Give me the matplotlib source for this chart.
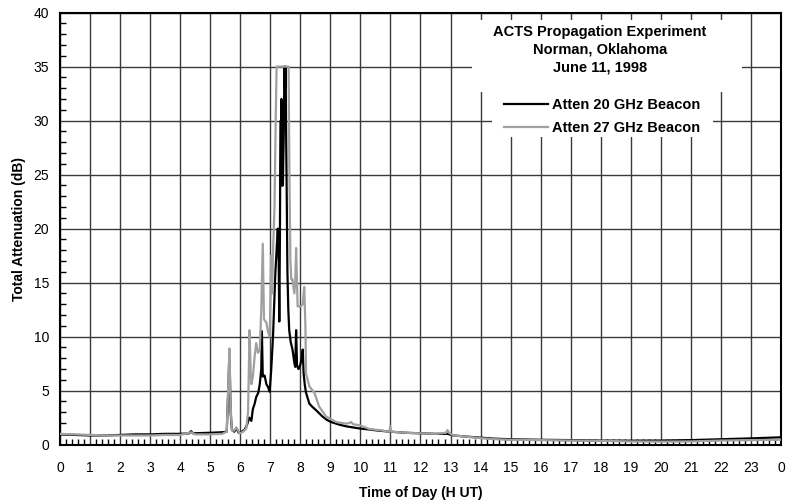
import matplotlib
matplotlib.use("Agg")
import matplotlib.pyplot as plt
from matplotlib.patches import Rectangle
from matplotlib.ticker import MultipleLocator

plt.rcParams["font.family"] = ["Liberation Sans", "DejaVu Sans"]

# 20 GHz beacon (black), hours UT / dB
t20 = [0.0, 0.5, 1.0, 1.5, 2.0, 2.5, 3.0, 3.5, 4.0, 4.3, 4.36, 4.42, 5.0, 5.4, 5.55,
       5.6, 5.64, 5.68, 5.72, 5.8, 5.87, 5.95, 6.05, 6.15, 6.22, 6.3, 6.37, 6.42, 6.48,
       6.53, 6.6, 6.65, 6.7, 6.72, 6.75, 6.81, 6.87, 6.93, 6.98, 7.03, 7.09, 7.13, 7.17,
       7.21, 7.25, 7.28, 7.3, 7.32, 7.33, 7.35, 7.36, 7.37, 7.38, 7.39, 7.4, 7.41, 7.42,
       7.43, 7.45, 7.47, 7.49, 7.51, 7.53, 7.55, 7.57, 7.6, 7.63, 7.68, 7.74, 7.8, 7.83,
       7.86, 7.89, 7.94, 8.0, 8.05, 8.08, 8.11, 8.15, 8.19, 8.3, 8.4, 8.52, 8.63, 8.74,
       8.88, 9.02, 9.3, 9.52, 9.97, 10.3, 10.6, 11.0, 11.5, 12.0, 12.5, 12.9, 13.1, 13.5,
       14.0, 14.5, 15.0, 16.0, 17.0, 18.0, 19.0, 20.0, 21.0, 22.0, 23.0, 24.0]
a20 = [0.95, 0.9, 0.85, 0.85, 0.9, 0.95, 0.95, 1.0, 1.0, 1.05, 1.25, 1.05, 1.1, 1.15, 1.2,
       5.0, 8.5, 3.0, 1.4, 1.2, 1.5, 1.1, 1.2, 1.4, 1.8, 2.5, 2.2, 3.3, 3.8,
       4.4, 4.8, 5.6, 7.0, 10.5, 6.3, 6.4, 5.6, 5.3, 4.9, 6.9, 10.0, 13.0, 16.0,
       18.0, 20.0, 17.0, 11.4, 19.0, 25.0, 30.0, 24.0, 32.0, 26.0, 28.0, 24.0, 27.0, 24.0,
       26.0, 29.0, 35.0, 33.0, 35.0, 28.0, 22.3, 16.0, 12.5, 10.6, 9.5, 8.8, 7.6, 7.2,
       10.6, 7.3, 7.0, 7.4, 8.0, 8.8, 6.6, 5.5, 4.8, 3.8, 3.5, 3.2, 2.9, 2.6,
       2.3, 2.1, 1.85, 1.7, 1.5, 1.4, 1.3, 1.2, 1.1, 1.05, 1.0, 1.0, 0.85, 0.75,
       0.65, 0.55, 0.5, 0.45, 0.42, 0.38, 0.37, 0.38, 0.42, 0.5, 0.58, 0.68]

# 27 GHz beacon (gray)
t27 = [0.0, 0.5, 1.0, 1.5, 2.0, 2.5, 3.0, 3.5, 4.0, 4.36, 4.5, 5.0, 5.4, 5.55, 5.6,
       5.64, 5.68, 5.72, 5.8, 5.87, 5.98, 6.1, 6.2, 6.26, 6.31, 6.35, 6.37, 6.42, 6.48,
       6.53, 6.59, 6.65, 6.7, 6.75, 6.79, 6.87, 6.92, 6.98, 7.03, 7.06, 7.09, 7.14, 7.18,
       7.21, 7.61, 7.64, 7.67, 7.7, 7.74, 7.8, 7.83, 7.86, 7.91, 8.02, 8.08, 8.13, 8.17,
       8.19, 8.3, 8.47, 8.63, 8.86, 9.19, 9.5, 9.63, 9.69, 9.75, 9.97, 10.3, 10.6, 10.97,
       10.99, 11.03, 11.5, 12.0, 12.5, 12.85, 12.9, 12.95, 13.1, 13.5, 14.0, 14.5, 15.0,
       16.0, 17.0, 18.0, 19.0, 20.0, 21.0, 22.0, 23.0, 24.0]
a27 = [1.0, 0.95, 0.9, 0.85, 0.85, 0.85, 0.85, 0.9, 0.9, 1.15, 0.95, 0.95, 1.0, 1.2, 5.5,
       8.9, 3.5, 1.3, 1.3, 1.6, 1.05, 1.2, 1.5, 3.0, 10.6, 6.5, 5.6, 6.3, 8.2,
       9.4, 8.5, 8.8, 12.5, 18.6, 11.6, 11.3, 10.5, 10.0, 17.5, 14.0, 17.8, 22.0, 30.0,
       35.0, 35.0, 24.0, 17.0, 15.3, 15.3, 14.0, 15.0, 18.2, 12.8, 12.8, 13.0, 14.6, 10.9,
       6.6, 5.4, 4.8, 3.5, 2.6, 2.1, 1.95, 2.0, 2.1, 1.9, 1.8, 1.45, 1.35, 1.2,
       1.7, 1.2, 1.1, 1.05, 1.0, 1.1, 1.35, 1.1, 0.85, 0.75, 0.6, 0.5, 0.45,
       0.42, 0.38, 0.35, 0.3, 0.28, 0.3, 0.38, 0.42, 0.45]

hour_labels = [str(h) for h in range(24)] + ["0"]

fig = plt.figure(figsize=(7.92, 5.03), dpi=100)
ax = fig.add_axes([0.0758, 0.116, 0.9102, 0.859])

ax.plot(t20, a20, color="black", lw=1.6, label="Atten 20 GHz Beacon", zorder=3)
ax.plot(t27, a27, color="#a0a0a0", lw=1.6, label="Atten 27 GHz Beacon", zorder=4)

ax.set_xlim(0, 24)
ax.set_ylim(0, 40)
ax.set_xticks(range(25))
ax.set_xticklabels(hour_labels)
ax.set_yticks(range(0, 41, 5))
ax.xaxis.set_minor_locator(MultipleLocator(0.2))
ax.yaxis.set_minor_locator(MultipleLocator(1))
ax.tick_params(which="both", direction="in", top=False, right=False, labelsize=10)
ax.tick_params(which="major", length=0)
ax.tick_params(which="minor", length=4, width=1, color="black")
ax.tick_params(axis="x", pad=12)
ax.tick_params(axis="y", pad=8)
ax.grid(True, which="major", color="#3a3a3a", lw=1)
for s in ax.spines.values():
    s.set_linewidth(1.5)

ax.set_xlabel("Time of Day (H UT)", fontsize=10, fontweight="bold", labelpad=8)
ax.set_ylabel("Total Attenuation (dB)", fontsize=10, fontweight="bold", labelpad=5)

# white boxes that hide the grid behind the title block and the legend
ax.add_patch(Rectangle((0.571, 0.816), 0.375, 0.167, transform=ax.transAxes,
                       facecolor="white", edgecolor="none", zorder=5))
ax.add_patch(Rectangle((0.599, 0.712), 0.307, 0.105, transform=ax.transAxes,
                       facecolor="white", edgecolor="none", zorder=5))

ax.text(0.749, 0.972, "ACTS Propagation Experiment\nNorman, Oklahoma\nJune 11, 1998",
        transform=ax.transAxes, ha="center", va="top", fontsize=10.5, fontweight="bold",
        linespacing=1.35, zorder=6)
leg = ax.legend(loc="upper center", bbox_to_anchor=(0.752, 0.815), frameon=False,
                borderaxespad=0, handlelength=3.0, handletextpad=0.3,
                labelspacing=0.6, prop={"weight": "bold", "size": 10.5})
leg.set_zorder(6)

fig.savefig("out.png", dpi=100)
